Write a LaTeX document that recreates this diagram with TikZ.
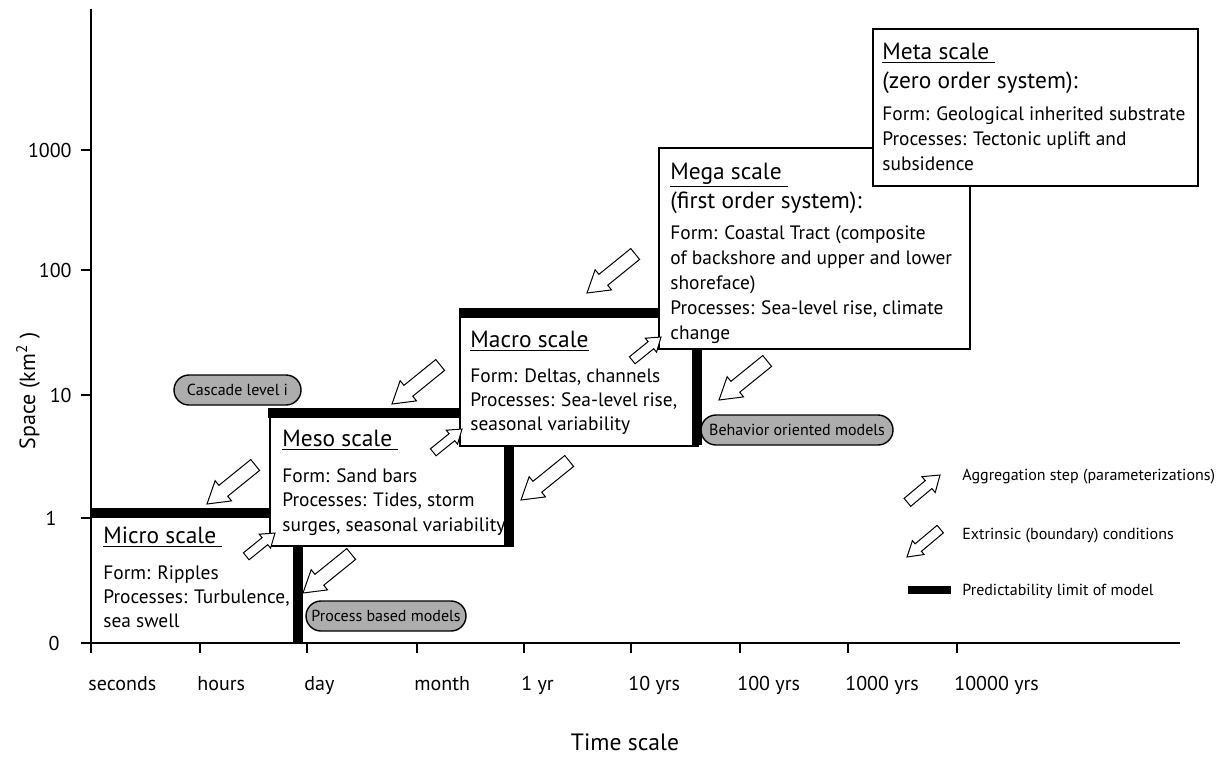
\documentclass[tikz,border=0pt]{standalone}
\usepackage{fontspec}
\setmainfont{PT Sans}
\usetikzlibrary{positioning}

\begin{document}
\begin{tikzpicture}[
    x=0.5pt, y=-0.5pt,
    axis/.style={line width=1pt},
    limitbar/.style={line width=5pt},
    scalebox/.style={rectangle, draw, line width=0.8pt, fill=white, inner sep=0pt, anchor=north west},
    scaletitle/.style={font=\fontsize{11.7}{14}\selectfont, inner sep=0pt, anchor=base west},
    scaletext/.style={font=\fontsize{9.7}{12.2}\selectfont, inner sep=0pt, anchor=north west, align=left},
    modeltag/.style={rectangle, rounded corners=7.5pt, draw, line width=0.7pt, fill=black!32, minimum height=15pt, inner sep=0pt, font=\fontsize{8}{9}\selectfont},
    ticklabel/.style={font=\fontsize{10}{12}\selectfont, inner sep=0pt},
    legendtext/.style={font=\fontsize{8}{10}\selectfont, inner sep=0pt, anchor=west},
    extrinsic/.pic={\draw[line width=0.5pt, fill=white] (0,0) -- (-21,13) -- (-21,7) -- (-62,7) -- (-62,-7) -- (-21,-7) -- (-21,-13) -- cycle;},
    aggregation/.pic={\draw[line width=0.5pt, fill=white] (0,0) -- (-13,9) -- (-13,4.5) -- (-37,4.5) -- (-37,-4.5) -- (-13,-4.5) -- (-13,-9) -- cycle;}
]
    \useasboundingbox (0,0) rectangle (1230,756);

    % Axes
    \draw[axis] (91,9) -- (91,643);
    \draw[axis] (82,643) -- (1180,643);
    \foreach \y/\lab/\lx [count=\i] in {150/1000/72, 270/100/72, 395/10/72, 518/1/57, 643/0/60} {
        \draw[axis] (81,\y) -- (91,\y);
        \node[ticklabel, anchor=east] (yl\i) at (\lx,\y) {\lab};
    }
    \foreach \x/\lab [count=\i] in {91/seconds, 200/hours, 307/day, 417/month, 524/1 yr, 631/10 yrs, 740/100 yrs, 848/1000 yrs, 957/10000 yrs} {
        \draw[axis] (\x,643) -- (\x,653);
        \node[ticklabel, anchor=base west] (xl\i) at (\x-3,690) {\lab};
    }
    \node[font=\fontsize{11}{13}\selectfont, rotate=90] (ylabel) at (28,391) {Space (km\textsuperscript{2} )};
    \node[font=\fontsize{11.8}{14}\selectfont, anchor=base] (xlabel) at (625,750) {Time scale};

    % Micro scale
    \draw[limitbar] (91,513) -- (269,513);
    \node[scaletitle] (microtitle) at (103,543) {\underline{Micro scale\kern3pt}};
    \node[scaletext] (microtext) at (103,565) {Form: Ripples\\Processes: Turbulence,\\sea swell};

    % Meso scale
    \node[scalebox, minimum width=118pt, minimum height=66pt] (meso) at (269,413) {};
    \draw[limitbar] (268,413) -- (460,413);
    \draw[limitbar] (298,545) -- (298,643);
    \node[scaletitle] (mesotitle) at (282,446) {\underline{Meso scale\kern3pt}};
    \node[scaletext] (mesotext) at (282,468) {Form: Sand bars\\Processes: Tides, storm\\surges, seasonal variability};

    % Macro scale
    \node[scalebox, minimum width=119pt, minimum height=66pt] (macro) at (459,313) {};
    \draw[limitbar] (459,313) -- (660,313);
    \draw[limitbar] (509,445) -- (509,547);
    \node[scaletitle] (macrotitle) at (470,347) {\underline{Macro scale}};
    \node[scaletext] (macrotext) at (470,368) {Form: Deltas, channels\\Processes: Sea-level rise,\\seasonal variability};

    % Mega scale
    \node[scalebox, minimum width=155.5pt, minimum height=100.5pt] (mega) at (658,147) {};
    \draw[limitbar] (697,348) -- (697,445);
    \node[scaletitle] (megatitle) at (670,179) {\underline{Mega scale\kern3pt}};
    \node[scaletitle] (megasub) at (670,208) {(first order system):};
    \node[scaletext, font=\fontsize{9.7}{12.5}\selectfont] (megatext) at (670,225) {Form: Coastal Tract (composite\\of backshore and upper and lower\\shoreface)\\Processes: Sea-level rise, climate\\change};

    % Meta scale
    \node[scalebox, minimum width=162.5pt, minimum height=78.5pt] (meta) at (872,28) {};
    \node[scaletitle] (metatitle) at (882,59) {\underline{Meta scale\kern3pt}};
    \node[scaletitle] (metasub) at (882,88) {(zero order system):};
    \node[scaletext, font=\fontsize{9.7}{12.5}\selectfont] (metatext) at (882,106) {Form: Geological inherited substrate\\Processes: Tectonic uplift and\\subsidence};

    % Model tags
    \node[modeltag, minimum width=63.5pt] (cascade) at (237.5,390) {Cascade level i};
    \node[modeltag, minimum width=80pt] (process) at (386,616) {Process based models};
    \node[modeltag, minimum width=96pt] (behavior) at (797,430) {Behavior oriented models};

    % Extrinsic conditions
    \foreach \p in {(207,504), (303,593), (392,404), (521,500), (587,293), (719,400)}
        \pic[rotate=219] at \p {extrinsic};

    % Aggregation steps
    \foreach \p in {(275,533), (462,429), (661,337)}
        \pic[rotate=39] at \p {aggregation};

    % Legend
    \pic[rotate=40, scale=1.15] at (940,475) {aggregation};
    \node[legendtext] (aggtext) at (962,477) {Aggregation step (parameterizations)};
    \pic[rotate=220, scale=0.7] at (907,557) {extrinsic};
    \node[legendtext] (exttext) at (962,536) {Extrinsic (boundary) conditions};
    \draw[line width=4pt] (908,590) -- (951,590);
    \node[legendtext] (limtext) at (962,591) {Predictability limit of model};
\end{tikzpicture}
\end{document}
